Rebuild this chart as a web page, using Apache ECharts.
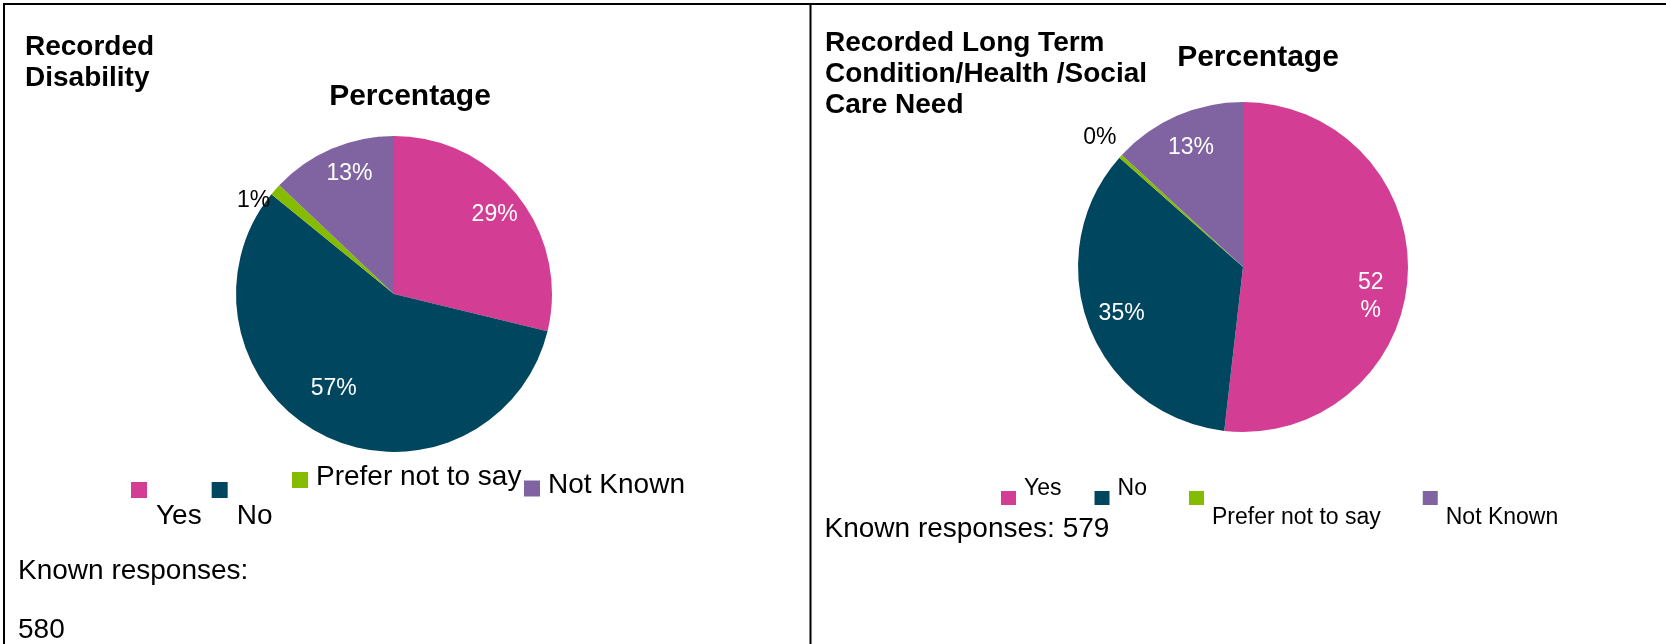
<!DOCTYPE html>
<html>
<head>
<meta charset="utf-8">
<title>Recorded Disability and Long Term Condition</title>
<script src="https://cdn.jsdelivr.net/npm/echarts@6/dist/echarts.min.js"></script>
<style>
  html, body { margin: 0; padding: 0; background: #ffffff; }
  #chart { width: 1666px; height: 644px; }
</style>
</head>
<body>
<div id="chart"></div>
<script>
// Response categories shared by both pies
const categories = ['Yes', 'No', 'Prefer not to say', 'Not Known'];
// Recorded disability (known responses)
const disabilityCounts = [167, 331, 7, 75];
// Recorded long term condition / health / social care need (known responses)
const longTermCounts = [300, 201, 2, 76];
const sliceColors = ['#D33E94', '#00465F', '#86BC00', '#8064A2'];

const FONT = "'Liberation Sans', Arial, Helvetica, sans-serif";
const sum = arr => arr.reduce((s, v) => s + v, 0);
const pctText = p => Math.round(p.percent) + '%';

// Main pie: coloured slices, optional outside label for one slice
function mainPie(center, radius, values, outsideIdx, outsideOffset) {
  return {
    type: 'pie', center, radius, startAngle: 90, clockwise: true,
    silent: true, avoidLabelOverlap: false, z: 2,
    itemStyle: { borderWidth: 0 },
    emphasis: { disabled: true },
    label: { show: false },
    labelLine: { show: false, length: 0, length2: 0 },
    data: categories.map((name, i) => ({
      name, value: values[i],
      itemStyle: { color: sliceColors[i] },
      label: i === outsideIdx
        ? { show: true, position: 'outside', color: '#000', fontSize: 23, fontFamily: FONT,
            distanceToLabelLine: 5, formatter: pctText, textBorderWidth: 0,
            offset: outsideOffset || [0, 0] }
        : { show: false }
    }))
  };
}

// Transparent ring carrying percentage labels at a chosen distance from the centre.
// nudges: optional small per-slice label shifts, splitIdx: slice whose label wraps before '%'
function labelRing(center, dist, values, showIdx, color, splitIdx, nudges) {
  const mid = dist - 3;
  return {
    type: 'pie', center, radius: [mid - 10, mid + 10], startAngle: 90, clockwise: true,
    silent: true, avoidLabelOverlap: false, z: 3,
    itemStyle: { color: 'transparent', borderWidth: 0 },
    emphasis: { disabled: true },
    labelLine: { show: false },
    label: {
      position: 'inside', color, fontSize: 23, fontFamily: FONT, lineHeight: 28,
      textBorderWidth: 0, rotate: 0,
      formatter: p => (splitIdx === p.dataIndex
        ? Math.round(p.percent) + '\n%'
        : pctText(p))
    },
    data: categories.map((name, i) => ({
      name, value: values[i],
      label: { show: showIdx.includes(i), offset: (nudges && nudges[i]) || [0, 0] }
    }))
  };
}

// Legend block: rich-text padding shifts each label relative to its swatch
function legendBlock(names, left, top, size, fontSize, gap, padding) {
  return {
    data: names, orient: 'horizontal', left, top, padding: 0,
    icon: 'rect', itemWidth: size[0], itemHeight: size[1], itemGap: gap,
    selectedMode: false,
    formatter: '{t|{name}}',
    textStyle: {
      color: '#000', fontSize, fontFamily: FONT,
      rich: { t: { color: '#000', fontSize, fontFamily: FONT, padding } }
    }
  };
}

function text(x, y, str, size, bold, lineHeight, align) {
  return {
    type: 'text', x, y, silent: true,
    style: {
      text: str, fill: '#000',
      font: (bold ? 'bold ' : '') + size + 'px ' + FONT,
      lineHeight: lineHeight || size,
      align: align || 'left', verticalAlign: 'top'
    }
  };
}

const chart = echarts.init(document.getElementById('chart'), null, { renderer: 'canvas' });

chart.setOption({
  backgroundColor: '#ffffff',
  animation: false,
  series: [
    mainPie([394, 294], 158, disabilityCounts, 2, [0, 11]),
    mainPie([1243, 267], 165, longTermCounts, -1),
    labelRing([394, 294], 128, disabilityCounts, [0, 3], '#fff', -1, { 3: [6, -3] }),
    labelRing([394, 294], 111, disabilityCounts, [1], '#fff', -1, { 1: [-11, -5] }),
    labelRing([1243, 267], 130, longTermCounts, [0, 1, 3], '#fff', 0, { 0: [-2, 22] }),
    labelRing([1243, 267], 193, longTermCounts, [2], '#000', -1)
  ],
  legend: [
    legendBlock(['Yes', 'No'], 131, 482, [16, 16], 28, 10, [52, 0, 0, 4]),
    legendBlock(['Prefer not to say'], 292, 463.5, [16, 16], 28, 10, [0, 0, 5, 3]),
    legendBlock(['Not Known'], 524, 471, [16, 16], 28, 10, [0, 0, 7, 3]),
    legendBlock(['Yes', 'No'], 1001, 477.5, [15, 14], 23, 33, [0, 0, 18, 3]),
    legendBlock(['Prefer not to say', 'Not Known'], 1189, 491, [15, 14], 23, 42, [39, 0, 0, 3])
  ],
  graphic: [
    // table borders
    { type: 'line', silent: true, shape: { x1: 3, y1: 4, x2: 1666, y2: 4 }, style: { stroke: '#000', lineWidth: 2 } },
    { type: 'line', silent: true, shape: { x1: 4, y1: 3, x2: 4, y2: 644 }, style: { stroke: '#000', lineWidth: 2 } },
    { type: 'line', silent: true, shape: { x1: 810.5, y1: 3, x2: 810.5, y2: 644 }, style: { stroke: '#000', lineWidth: 2 } },
    // left cell
    text(25, 32, 'Recorded\nDisability', 28, true, 31),
    text(410, 82, 'Percentage', 30, true, 30, 'center'),
    text(18, 557, 'Known responses:', 28, false, 28),
    text(18, 616, String(sum(disabilityCounts)), 28, false, 28),
    // right cell
    text(825, 27.5, 'Recorded Long Term\nCondition/Health /Social\nCare Need', 28, true, 31),
    text(1258, 42.5, 'Percentage', 30, true, 30, 'center'),
    text(824.5, 515, 'Known responses: ' + sum(longTermCounts), 28, false, 28)
  ]
});
</script>
</body>
</html>
